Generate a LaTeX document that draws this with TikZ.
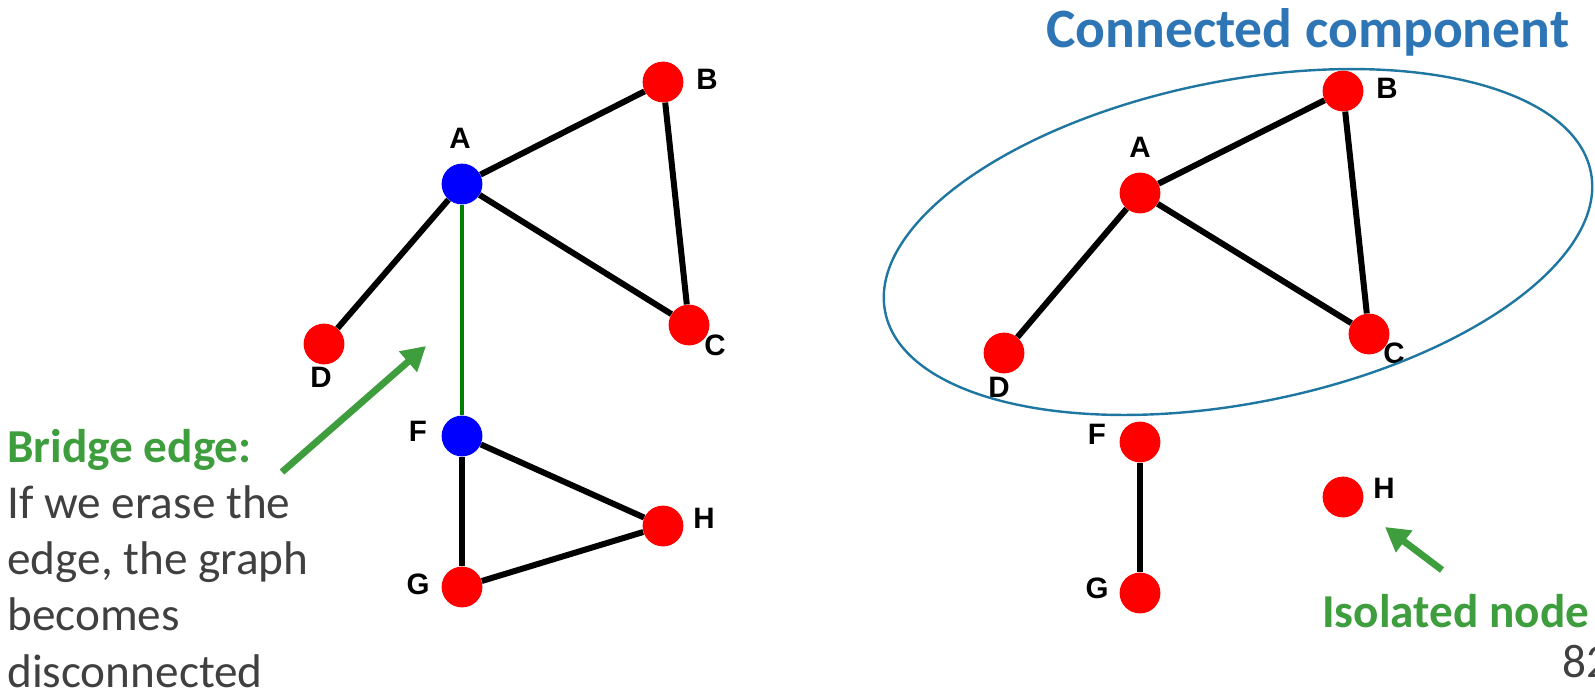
\documentclass[tikz,border=0pt]{standalone}
\usepackage{fontspec}
\setmainfont{Carlito}
\newfontfamily\labelfont{Liberation Sans}
\usetikzlibrary{arrows.meta}
\definecolor{notegreen}{RGB}{62,158,62}
\definecolor{bridgegreen}{RGB}{0,128,0}
\definecolor{titleblue}{RGB}{46,117,182}
\definecolor{compblue}{RGB}{31,118,160}
\definecolor{textgray}{RGB}{64,64,64}
\begin{document}
\begin{tikzpicture}[x=0.025cm,y=-0.025cm]
    % Define styles for vertices, labels, edges and notes
    \tikzstyle{vertex} = [circle, minimum size=1.02cm, inner sep=0pt, fill=red]
    \tikzstyle{cut} = [vertex, fill=blue]
    \tikzstyle{lbl} = [inner sep=0pt, font=\labelfont\bfseries\fontsize{21}{21}\selectfont]
    \tikzstyle{edge} = [line width=0.15cm]
    \tikzstyle{note} = [-{Triangle[length=0.6cm,width=0.65cm]}, line width=0.17cm, draw=notegreen]
    \tikzstyle{txt} = [inner sep=0pt, anchor=base west, text=textgray, font=\fontsize{33.6}{40}\selectfont]
    \tikzstyle{boldtxt} = [txt, text=notegreen, font=\bfseries\fontsize{33.6}{40}\selectfont]

    \useasboundingbox (0,0) rectangle (1595,698);

    % Draw the left graph
    \foreach \n/\x/\y in {B/663/82, C/689/325, D/324/344, G/462/587, H/663/526} {
        \node[vertex] (l\n) at (\x,\y) {};
    }
    \foreach \n/\x/\y in {A/462/184, F/462/436} {
        \node[cut] (l\n) at (\x,\y) {};
    }
    \foreach \n/\x/\y in {A/460/138, B/707/79, C/715/345, D/321/377, F/418/431, G/418/584, H/704/518} {
        \node[lbl] (lab-l\n) at (\x,\y) {\n};
    }
    \foreach \a/\b in {A/B, A/C, A/D, B/C, F/G, F/H, G/H} {
        \draw[edge] (l\a) -- (l\b);
    }
    \draw[edge, line width=0.11cm, draw=bridgegreen] (lA) -- (lF);

    % Draw the right graph
    \foreach \n/\x/\y in {A/1140/193, B/1343/91, C/1369/334, D/1004/353, F/1140/442, G/1140/593, H/1343/497} {
        \node[vertex] (r\n) at (\x,\y) {};
    }
    \foreach \n/\x/\y in {A/1140/147, B/1387/88, C/1394/353, D/999/387, F/1097/434, G/1097/588, H/1384/488} {
        \node[lbl] (lab-r\n) at (\x,\y) {\n};
    }
    \foreach \a/\b in {A/B, A/C, A/D, B/C, F/G} {
        \draw[edge] (r\a) -- (r\b);
    }

    % Draw the ellipse round the component
    \draw[line width=0.06cm, draw=compblue, rotate around={11.2:(1238,242)}] (1238,242) ellipse [x radius=8.99cm, y radius=4.03cm];
    \node[txt, text=titleblue, font=\bfseries\fontsize{39.5}{46}\selectfont] (title) at (1046,47) {Connected component};

    % Bridge note
    \node[boldtxt] (bridge0) at (7,462) {Bridge edge:};
    \foreach \t [count=\i] in {If we erase the, {edge, the graph}, becomes, disconnected} {
        \node[txt] (bridge\i) at (7,{462+56.3*\i}) {\t};
    }
    \coordinate (bridgetail) at (282,472);
    \coordinate (bridgetip) at (426,346);
    \draw[note] (bridgetail) -- (bridgetip);

    % Isolated node note
    \node[boldtxt] (isolated) at (1322,627) {Isolated node};
    \coordinate (isotail) at (1442,570);
    \coordinate (isotip) at (1385,527);
    \draw[note] (isotail) -- (isotip);

    \node[txt] (pagenum) at (1562,677) {82};
\end{tikzpicture}
\end{document}
